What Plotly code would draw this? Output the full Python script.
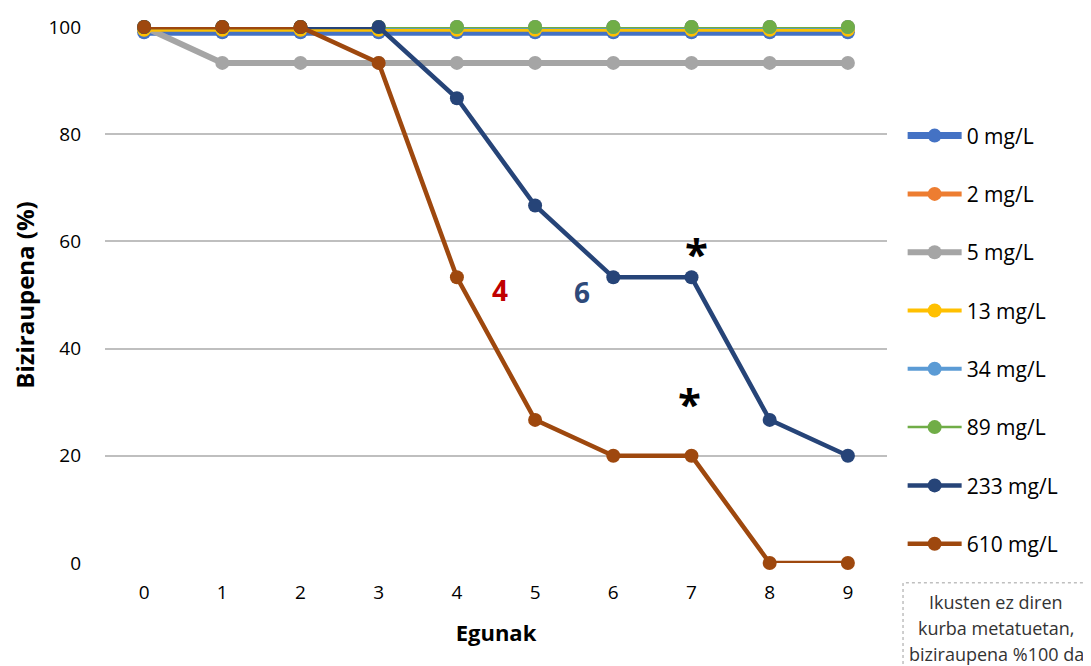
import plotly.graph_objects as go

days = [0, 1, 2, 3, 4, 5, 6, 7, 8, 9]
series_names = ["0 mg/L", "2 mg/L", "5 mg/L", "13 mg/L", "34 mg/L", "89 mg/L", "233 mg/L", "610 mg/L"]
s0 = [99, 99, 99, 99, 99, 99, 99, 99, 99, 99]
s2 = [100, 100, 100, 100, 100, 100, 100, 100, 100, 100]
s5 = [100, 93.3, 93.3, 93.3, 93.3, 93.3, 93.3, 93.3, 93.3, 93.3]
s13 = [99.5, 99.5, 99.5, 99.5, 99.5, 99.5, 99.5, 99.5, 99.5, 99.5]
s34 = [100, 100, 100, 100, 100, 100, 100, 100, 100, 100]
s89 = [100, 100, 100, 100, 100, 100, 100, 100, 100, 100]
s233 = [100, 100, 100, 100, 86.7, 66.7, 53.3, 53.3, 26.7, 20]
s610 = [100, 100, 100, 93.3, 53.3, 26.7, 20, 20, 0, 0]
all_series = [s0, s2, s5, s13, s34, s89, s233, s610]

note_lines = ["Ikusten ez diren", "kurba metatuetan,", "biziraupena %100 da"]

colors = ["#4472C4", "#ED7D31", "#A5A5A5", "#FFC000", "#5B9BD5", "#70AD47", "#264478", "#9E480E"]
widths = [7, 5, 6, 4, 4, 2.5, 4.5, 4.5]

FONT = "Open Sans, Liberation Sans, sans-serif"

fig = go.Figure()
for i, (name, vals) in enumerate(zip(series_names, all_series)):
    fig.add_trace(go.Scatter(
        x=days, y=vals, name=name, mode="lines+markers",
        line=dict(color=colors[i], width=widths[i]),
        marker=dict(color=colors[i], size=14),
        legendgroup=name, cliponaxis=False,
    ))

# browser body margin is 8px, so the figure is placed at (8, 8)
fig.update_layout(
    width=1083, height=658,
    margin=dict(l=97, r=204, t=19, b=103, autoexpand=False),
    paper_bgcolor="white", plot_bgcolor="white",
    font=dict(family=FONT, size=19, color="#000000"),
    showlegend=True,
    legend=dict(x=1.02, y=0.835, xanchor="left", yanchor="top",
                font=dict(size=21, family=FONT, color="#000000"), tracegroupgap=28,
                itemwidth=54, bgcolor="rgba(0,0,0,0)"),
    xaxis=dict(range=[-0.5, 9.5], tickvals=days, ticktext=[str(d) for d in days],
               showgrid=False, zeroline=False, showline=False, ticks="",
               ticklabelstandoff=16, automargin=False,
               tickfont=dict(size=19, color="#000000"),
               title=dict(text="<b>Egunak</b>", font=dict(size=22), standoff=21)),
    yaxis=dict(range=[0, 100], tickvals=[0, 20, 40, 60, 80, 100],
               showgrid=True, gridcolor="#BFBFBF", gridwidth=1.5, zeroline=False,
               showline=False, ticks="", ticklabelstandoff=23, automargin=False,
               tickfont=dict(size=19, color="#000000"),
               title=dict(text="<b>Biziraupena (%)</b>", font=dict(size=24), standoff=16)),
)

fig.add_annotation(x=4.55, y=51, text="<b>4</b>", showarrow=False,
                   font=dict(size=28, color="#C00000", family=FONT))
fig.add_annotation(x=5.6, y=50.5, text="<b>6</b>", showarrow=False,
                   font=dict(size=28, color="#2E4A7A", family=FONT))
fig.add_annotation(x=7.07, y=58, text="<b>*</b>", showarrow=False,
                   font=dict(size=42, color="#000000", family=FONT))
fig.add_annotation(x=6.97, y=30, text="<b>*</b>", showarrow=False,
                   font=dict(size=42, color="#000000", family=FONT))

fig.add_shape(type="rect", xref="paper", yref="paper",
              x0=1.0205, x1=1.262, y0=-0.25, y1=-0.037,
              line=dict(color="#BFBFBF", width=1.5, dash="dot"))
for k, line in enumerate(note_lines):
    fig.add_annotation(xref="paper", yref="paper", x=1.1394, y=-0.0728 - 0.0485 * k,
                       xanchor="center", yanchor="middle", showarrow=False,
                       text=line, font=dict(size=18, color="#333333", family=FONT))

fig.write_html("out.html")
